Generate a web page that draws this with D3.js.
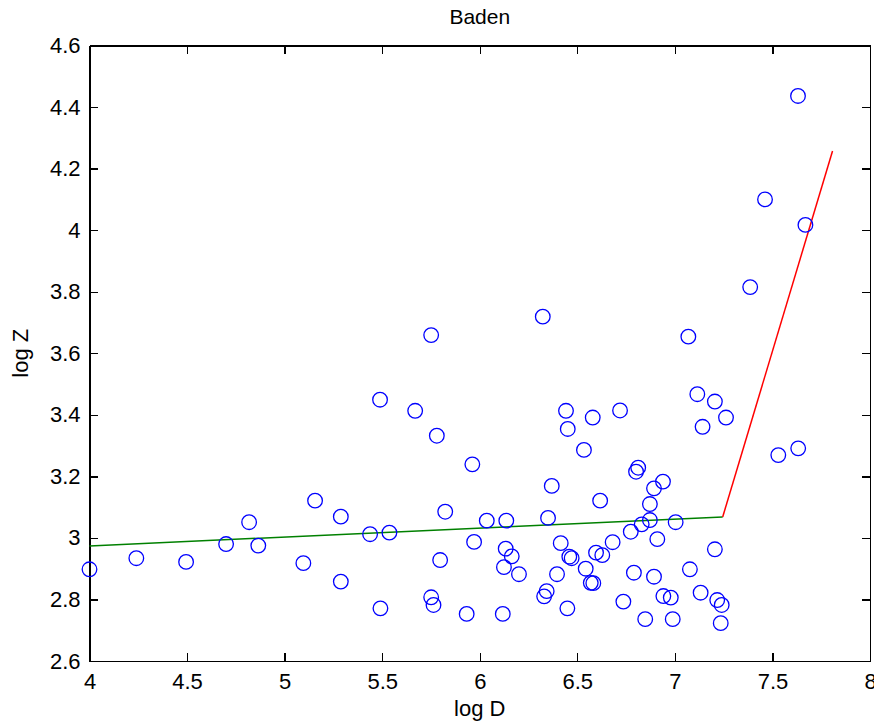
<!DOCTYPE html>
<html>
    <head>
        <title>Baden</title>
        <script src="https://d3js.org/d3.v7.min.js"></script>
        <style>
            body {
                margin: 0;
                background: #fff;
            }
            text {
                font-family: 'Liberation Sans', Arial, sans-serif;
                fill: #000;
            }
            .axis path,
            .axis line {
                stroke: #000;
                stroke-width: 1.3px;
                shape-rendering: crispEdges;
            }
            .axis text {
                font-size: 22px;
                font-family: 'Liberation Sans', Arial, sans-serif;
            }
            .pt {
                fill: none;
                stroke: #0000ff;
                stroke-width: 1.3px;
            }
        </style>
    </head>
    <body>
        <div id="chart"></div>
        <script>
            // observations (log D, log Z)
            const logD = [
                4.0, 4.24, 4.495, 4.7, 4.818, 4.865, 5.096, 5.156, 5.288, 5.288,
                5.438, 5.489, 5.491, 5.537, 5.669, 5.751, 5.751, 5.763, 5.78, 5.797,
                5.823, 5.933, 5.962, 5.971, 6.036, 6.118, 6.136, 6.133, 6.124, 6.164,
                6.201, 6.323, 6.33, 6.343, 6.35, 6.369, 6.396, 6.415, 6.442, 6.451,
                6.449, 6.459, 6.471, 6.534, 6.543, 6.579, 6.569, 6.596, 6.582, 6.617,
                6.628, 6.681, 6.719, 6.736, 6.774, 6.79, 6.801, 6.812, 6.83, 6.848,
                6.872, 6.872, 6.893, 6.893, 6.91, 6.939, 6.941, 6.979, 6.989, 7.004,
                7.069, 7.077, 7.115, 7.132, 7.142, 7.205, 7.205, 7.217, 7.24, 7.235,
                7.262, 7.386, 7.462, 7.53, 7.631, 7.632, 7.669
            ];
            const logZ = [
                2.898, 2.934, 2.922, 2.98, 3.051, 2.975, 2.918, 3.121, 3.069, 2.858,
                3.012, 3.449, 2.771, 3.017, 3.413, 3.659, 2.807, 2.782, 3.332, 2.928,
                3.085, 2.753, 3.239, 2.987, 3.056, 2.753, 3.056, 2.965, 2.905, 2.94,
                2.882, 3.719, 2.81, 2.827, 3.065, 3.169, 2.882, 2.983, 3.413, 3.354,
                2.771, 2.939, 2.934, 3.286, 2.9, 3.391, 2.854, 2.952, 2.853, 3.121,
                2.944, 2.986, 3.414, 2.793, 3.02, 2.887, 3.215, 3.228, 3.044, 2.736,
                3.11, 3.058, 2.874, 3.161, 2.996, 3.183, 2.811, 2.806, 2.736, 3.051,
                3.654, 2.898, 3.467, 2.822, 3.361, 2.963, 3.443, 2.798, 2.782, 2.723,
                3.391, 3.815, 4.1, 3.269, 4.436, 3.291, 4.017
            ];

            // fitted segments
            const greenD = [4.0, 7.245];
            const greenZ = [2.974, 3.068];
            const redD = [7.245, 7.808];
            const redZ = [3.068, 4.257];

            const xTicks = [4, 4.5, 5, 5.5, 6, 6.5, 7, 7.5, 8];
            const yTicks = [2.6, 2.8, 3, 3.2, 3.4, 3.6, 3.8, 4, 4.2, 4.4, 4.6];

            const W = 874,
                H = 727;
            const plotLeft = 89.5,
                plotRight = 870,
                plotTop = 45.5,
                plotBottom = 661;

            const svg = d3.select('#chart').append('svg').attr('width', W).attr('height', H);

            const x = d3.scaleLinear().domain([4, 8]).range([plotLeft, plotRight]);
            const y = d3.scaleLinear().domain([2.6, 4.6]).range([plotBottom, plotTop]);

            // axes, ticks pointing inward on all four sides
            svg.append('g')
                .attr('class', 'axis')
                .attr('transform', 'translate(0,' + plotBottom + ')')
                .call(d3.axisBottom(x).tickValues(xTicks).tickFormat(String).tickSize(-8).tickSizeOuter(0).tickPadding(12));
            svg.append('g')
                .attr('class', 'axis')
                .attr('transform', 'translate(0,' + plotTop + ')')
                .call(d3.axisTop(x).tickValues(xTicks).tickFormat('').tickSize(-8).tickSizeOuter(0));
            svg.append('g')
                .attr('class', 'axis')
                .attr('transform', 'translate(' + plotLeft + ',0)')
                .call(d3.axisLeft(y).tickValues(yTicks).tickFormat(String).tickSize(-8).tickSizeOuter(0).tickPadding(9));
            svg.append('g')
                .attr('class', 'axis')
                .attr('transform', 'translate(' + plotRight + ',0)')
                .call(d3.axisRight(y).tickValues(yTicks).tickFormat('').tickSize(-8).tickSizeOuter(0));

            const line = d3
                .line()
                .x((d) => x(d[0]))
                .y((d) => y(d[1]));

            svg.append('path')
                .datum(d3.zip(greenD, greenZ))
                .attr('d', line)
                .attr('fill', 'none')
                .attr('stroke', '#008000')
                .attr('stroke-width', 1.5);
            svg.append('path')
                .datum(d3.zip(redD, redZ))
                .attr('d', line)
                .attr('fill', 'none')
                .attr('stroke', '#ff0000')
                .attr('stroke-width', 1.5);

            svg.selectAll('.pt')
                .data(d3.zip(logD, logZ))
                .enter()
                .append('circle')
                .attr('class', 'pt')
                .attr('cx', (d) => x(d[0]))
                .attr('cy', (d) => y(d[1]))
                .attr('r', 7.3);

            svg.append('text')
                .attr('x', (plotLeft + plotRight) / 2)
                .attr('y', 24)
                .attr('text-anchor', 'middle')
                .style('font-size', '21px')
                .text('Baden');
            svg.append('text')
                .attr('x', (plotLeft + plotRight) / 2)
                .attr('y', 716)
                .attr('text-anchor', 'middle')
                .style('font-size', '22px')
                .text('log D');
            svg.append('text')
                .attr('transform', 'translate(28,' + (plotTop + plotBottom) / 2 + ') rotate(-90)')
                .attr('text-anchor', 'middle')
                .style('font-size', '22px')
                .text('log Z');
        </script>
    </body>
</html>
